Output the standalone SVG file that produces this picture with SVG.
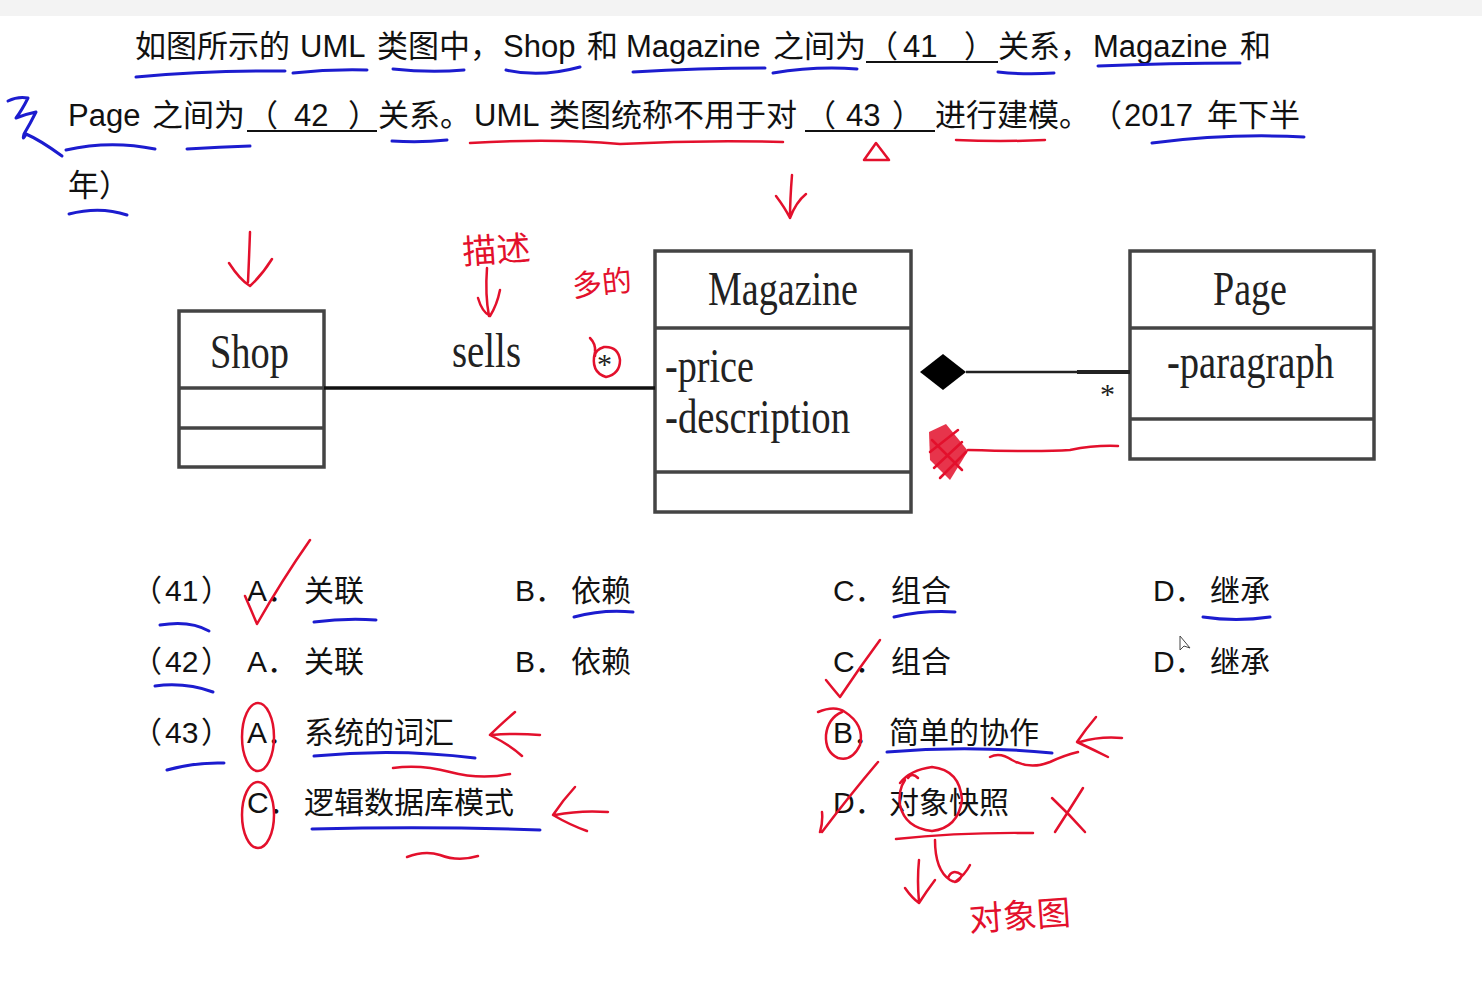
<svg xmlns="http://www.w3.org/2000/svg" width="1482" height="1008" viewBox="0 0 1482 1008">
<style>
.q{font-family:"Liberation Sans","Noto Sans CJK SC",sans-serif;font-size:31px;fill:#111}
.o{font-family:"Liberation Sans","Noto Sans CJK SC",sans-serif;font-size:30px;fill:#111}
.uml{font-family:"Liberation Serif",serif;font-size:48px;fill:#222}
.box{fill:#fff;stroke:#444;stroke-width:3.5}
.sep{stroke:#444;stroke-width:3.5}
.bl{stroke:#1c1ccf;stroke-width:3;fill:none;stroke-linecap:round;stroke-linejoin:round}
.rd{stroke:#e3102c;stroke-width:2.5;fill:none;stroke-linecap:round;stroke-linejoin:round}
.hw{font-family:"Noto Sans CJK SC",sans-serif;fill:#e3102c}
.ul{stroke:#111;stroke-width:2}
</style>
<rect width="1482" height="1008" fill="#fff"/>
<rect width="1482" height="16" fill="#f3f3f3"/>

<g id="question">
<text class="q" x="135" y="57">如图所示的</text>
<text class="q" x="300" y="57">UML</text>
<text class="q" x="377" y="57">类图中，</text>
<text class="q" x="503" y="57">Shop</text>
<text class="q" x="587" y="57">和</text>
<text class="q" x="626" y="57">Magazine</text>
<text class="q" x="773" y="57">之间为</text>
<text class="q" x="867" y="57">（<tspan x="903">41</tspan><tspan x="964">）</tspan></text>
<line class="ul" x1="866" y1="62" x2="998" y2="62"/>
<text class="q" x="998" y="57">关系，</text>
<text class="q" x="1093" y="57">Magazine</text>
<text class="q" x="1240" y="57">和</text>

<text class="q" x="68" y="126">Page</text>
<text class="q" x="152" y="126">之间为</text>
<text class="q" x="247" y="126">（<tspan x="294">42</tspan><tspan x="348">）</tspan></text>
<line class="ul" x1="247" y1="131" x2="377" y2="131"/>
<text class="q" x="378" y="126">关系。</text>
<text class="q" x="474" y="126">UML</text>
<text class="q" x="549" y="126">类图统称不用于对</text>
<text class="q" x="805" y="126">（<tspan x="846">43</tspan><tspan x="892">）</tspan></text>
<line class="ul" x1="805" y1="131" x2="935" y2="131"/>
<text class="q" x="935" y="126">进行建模。</text>
<text class="q" x="1091" y="126">（<tspan x="1124">2017</tspan></text>
<text class="q" x="1207" y="126">年下半</text>
<text class="q" x="68" y="196">年）</text>
</g>

<g id="shop">
<rect class="box" x="179" y="311" width="145" height="156"/>
<line class="sep" x1="179" y1="388" x2="324" y2="388"/>
<line class="sep" x1="179" y1="428" x2="324" y2="428"/>
<text class="uml" x="210" y="368" textLength="79" lengthAdjust="spacingAndGlyphs">Shop</text>
</g>

<g id="magazine">
<rect class="box" x="655" y="251" width="256" height="261"/>
<line class="sep" x1="655" y1="328" x2="911" y2="328"/>
<line class="sep" x1="655" y1="472" x2="911" y2="472"/>
<text class="uml" x="708" y="305" textLength="150" lengthAdjust="spacingAndGlyphs">Magazine</text>
<text class="uml" x="665" y="382" textLength="89" lengthAdjust="spacingAndGlyphs">-price</text>
<text class="uml" x="665" y="433" textLength="185" lengthAdjust="spacingAndGlyphs">-description</text>
</g>

<g id="page">
<rect class="box" x="1130" y="251" width="244" height="208"/>
<line class="sep" x1="1130" y1="328" x2="1374" y2="328"/>
<line class="sep" x1="1130" y1="419" x2="1374" y2="419"/>
<text class="uml" x="1213" y="305" textLength="74" lengthAdjust="spacingAndGlyphs">Page</text>
<text class="uml" x="1167" y="378" textLength="167" lengthAdjust="spacingAndGlyphs">-paragraph</text>
</g>

<g id="connectors">
<line x1="324" y1="388" x2="655" y2="388" stroke="#111" stroke-width="3.5"/>
<text class="uml" x="452" y="367" textLength="69" lengthAdjust="spacingAndGlyphs">sells</text>
<text class="uml" x="597" y="374" style="font-size:30px">*</text>
<polygon points="920,372 943,354 966,372 943,390" fill="#000"/>
<line x1="966" y1="372" x2="1130" y2="372" stroke="#222" stroke-width="2.5"/>
<line x1="1077" y1="372" x2="1130" y2="372" stroke="#222" stroke-width="4"/>
<text class="uml" x="1100" y="404" style="font-size:30px">*</text>
</g>

<g id="options">
<text class="o" x="132" y="601">（<tspan x="165">41</tspan><tspan x="201">）</tspan></text>
<text class="o" x="247" y="601">A．</text><text class="o" x="304" y="601">关联</text>
<text class="o" x="515" y="601">B．</text><text class="o" x="571" y="601">依赖</text>
<text class="o" x="833" y="601">C．</text><text class="o" x="891" y="601">组合</text>
<text class="o" x="1153" y="601">D．</text><text class="o" x="1210" y="601">继承</text>

<text class="o" x="132" y="672">（<tspan x="165">42</tspan><tspan x="201">）</tspan></text>
<text class="o" x="247" y="672">A．</text><text class="o" x="304" y="672">关联</text>
<text class="o" x="515" y="672">B．</text><text class="o" x="571" y="672">依赖</text>
<text class="o" x="833" y="672">C．</text><text class="o" x="891" y="672">组合</text>
<text class="o" x="1153" y="672">D．</text><text class="o" x="1210" y="672">继承</text>

<text class="o" x="132" y="743">（<tspan x="165">43</tspan><tspan x="201">）</tspan></text>
<text class="o" x="247" y="743">A．</text><text class="o" x="304" y="743">系统的词汇</text>
<text class="o" x="833" y="743">B．</text><text class="o" x="889" y="743">简单的协作</text>
<text class="o" x="247" y="813">C．</text><text class="o" x="304" y="813">逻辑数据库模式</text>
<text class="o" x="833" y="813">D．</text><text class="o" x="889" y="813">对象快照</text>
</g>

<g id="blue-marks">
<path class="bl" d="M136,77 Q210,70 285,71"/>
<path class="bl" d="M293,73 Q330,69 367,70"/>
<path class="bl" d="M393,69 Q430,73 464,70"/>
<path class="bl" d="M506,70 Q540,78 580,67"/>
<path class="bl" d="M633,72 Q700,68 765,68"/>
<path class="bl" d="M773,73 Q815,66 857,69"/>
<path class="bl" d="M998,72 Q1025,75 1054,73"/>
<path class="bl" d="M1098,66 Q1170,63 1240,63"/>
<path class="bl" d="M66,150 Q110,140 155,149"/>
<path class="bl" d="M187,149 Q220,147 250,146"/>
<path class="bl" d="M392,141 Q420,143 447,140"/>
<path class="bl" d="M1152,143 Q1230,133 1304,137"/>
<path class="bl" d="M69,214 Q100,206 127,215"/>
<path class="bl" d="M8,101 Q18,96 28,98 Q22,110 16,118 Q26,114 36,112 Q30,124 24,134 Q22,142 26,134 Q40,140 62,156"/>
<path class="bl" d="M160,625 Q190,620 209,631"/>
<path class="bl" d="M314,622 Q345,618 376,620"/>
<path class="bl" d="M574,617 Q603,609 633,612"/>
<path class="bl" d="M894,617 Q925,610 955,612"/>
<path class="bl" d="M1203,617 Q1236,622 1270,617"/>
<path class="bl" d="M155,686 Q185,682 213,692"/>
<path class="bl" d="M167,770 Q195,762 224,763"/>
<path class="bl" d="M314,756 Q395,748 475,758"/>
<path class="bl" d="M312,829 Q430,826 540,830"/>
<path class="bl" d="M887,752 Q970,745 1052,753"/>
<path d="M1180,636 L1180,650 L1184,646 L1190,648 Z" fill="#fff" stroke="#444" stroke-width="1"/>
</g>

<g id="red-marks">
<path class="rd" d="M470,143 Q550,138 620,144 Q700,140 783,142"/>
<path class="rd" d="M956,140 Q1000,142 1045,140"/>
<path class="rd" d="M864,160 L876,143 L889,160 Z"/>
<path class="rd" d="M792,175 Q790,200 790,218 M776,196 Q785,208 790,218 Q796,202 806,194"/>
<path class="rd" d="M250,232 Q249,260 248,282 M229,263 Q240,280 250,286 Q262,275 272,259"/>
<path class="rd" d="M487,268 Q485,295 489,316 M478,298 Q482,312 490,316 Q497,305 500,290"/>
<text class="hw" x="462" y="262" font-size="34" transform="rotate(-4 495 245)">描述</text>
<text class="hw" x="571" y="294" font-size="30" transform="rotate(-6 600 275)">多的</text>
<path class="rd" d="M590,338 Q596,344 595,352 Q590,372 606,377 Q620,374 620,360 Q618,346 604,347 Q595,350 595,356"/>
<path d="M929,432 L946,424 L968,451 L950,480 L930,460 Z" fill="#e3102c" opacity="0.85"/>
<path class="rd" d="M932,440 L962,470 M930,452 L958,430 M934,468 L962,442 M940,478 L966,452" stroke-width="3"/>
<path class="rd" d="M968,450 Q1040,452 1070,450 Q1095,445 1118,446"/>
<path class="rd" d="M245,596 Q252,612 257,624 Q282,580 310,540"/>
<path class="rd" d="M826,680 Q834,690 840,697 Q860,667 880,640"/>
<ellipse class="rd" cx="258" cy="737" rx="16" ry="34"/>
<ellipse class="rd" cx="258" cy="815" rx="16" ry="33"/>
<path class="rd" d="M818,712 Q835,705 845,712 Q865,725 860,745 Q852,762 838,758 Q825,752 826,735 Q828,718 842,712"/>
<path class="rd" d="M820,832 Q823,822 822,812 M822,832 Q850,795 878,762"/>
<path class="rd" d="M900,783 Q910,770 932,767 Q960,770 962,800 Q958,828 932,831 Q905,828 900,805 Q898,790 905,780 M908,778 Q912,772 918,778"/>
<path class="rd" d="M1052,798 Q1070,815 1085,832 M1083,788 Q1068,812 1055,832"/>
<path class="rd" d="M515,712 Q500,725 490,735 Q510,745 522,756 M492,735 Q515,733 540,735"/>
<path class="rd" d="M575,787 Q563,800 553,815 Q570,825 587,831 M555,815 Q580,810 608,812"/>
<path class="rd" d="M1096,717 Q1085,730 1077,742 Q1094,750 1108,757 M1080,742 Q1100,736 1122,738"/>
<path class="rd" d="M393,768 Q420,764 450,772 Q480,780 510,774"/>
<path class="rd" d="M990,757 Q1000,752 1012,760 Q1030,770 1050,762 Q1065,755 1078,752"/>
<path class="rd" d="M407,857 Q425,850 440,855 Q458,862 478,856"/>
<path class="rd" d="M896,839 Q960,832 1033,833"/>
<path class="rd" d="M935,840 Q935,870 950,880 Q958,885 962,875 Q952,868 948,878 M955,882 Q965,875 970,865"/>
<path class="rd" d="M919,860 Q917,880 919,902 M905,888 Q912,898 919,903 Q926,892 935,880"/>
<text class="hw" x="968" y="928" font-size="34" transform="rotate(-4 1020 905)">对象图</text>
</g>
</svg>
